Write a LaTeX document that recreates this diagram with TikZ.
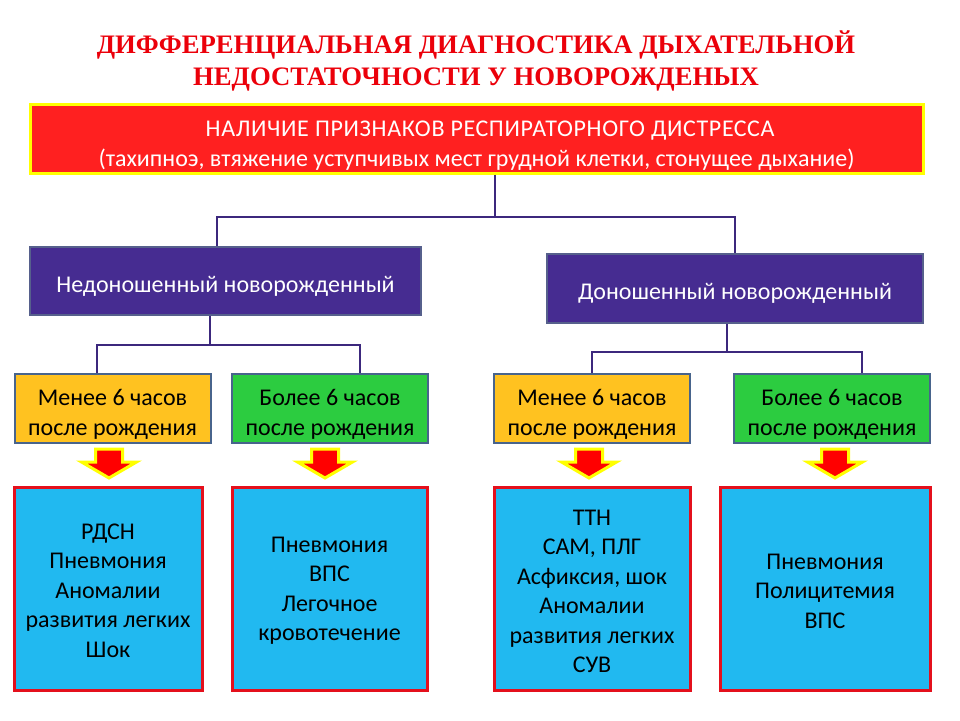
\documentclass[tikz,border=0pt]{standalone}
\usepackage{fontspec}
\setmainfont{Carlito}
\newfontfamily\titlefont{Liberation Serif}
\usepackage{tikz}
\usetikzlibrary{positioning}

\definecolor{boxred}{RGB}{255,32,32}
\definecolor{boxyel}{RGB}{255,255,0}
\definecolor{boxpur}{RGB}{70,44,145}
\definecolor{edgepur}{RGB}{86,96,140}
\definecolor{boxgold}{RGB}{255,194,32}
\definecolor{boxgreen}{RGB}{44,204,64}
\definecolor{edgeblue}{RGB}{72,100,140}
\definecolor{boxsky}{RGB}{33,185,240}
\definecolor{edgered}{RGB}{228,16,28}
\definecolor{linkpur}{RGB}{60,40,125}
\definecolor{titlered}{RGB}{235,0,10}
% strut to push text down in a box
\newcommand{\tstrut}[1][28pt]{\rule{0pt}{#1}}

\begin{document}
\begin{tikzpicture}[x=1pt,y=-1pt
  ,every node/.style={font=\fontsize{24}{29.5}\selectfont,align=center,inner sep=0pt}]
  \tikzstyle{every box}=[draw,line width=2pt,minimum height=69]
  \tikzstyle{redbox}=[every box,fill=boxred,draw=boxyel,line width=3pt,text=white]
  \tikzstyle{purbox}=[every box,fill=boxpur,draw=edgepur,text=white]
  \tikzstyle{goldbox}=[every box,fill=boxgold,draw=edgeblue,minimum width=196]
  \tikzstyle{greenbox}=[every box,fill=boxgreen,draw=edgeblue,minimum width=196]
  \tikzstyle{skybox}=[every box,fill=boxsky,draw=edgered,line width=3pt,minimum height=203]
  \tikzstyle{link}=[draw=linkpur,line width=1.5pt]
  \tikzstyle{blockarrow}=[fill=red,draw=boxyel,line width=3pt,line join=miter]

  \useasboundingbox (0,0) rectangle (960,720);

  % title
  \node[font=\titlefont\bfseries\fontsize{26.7}{32}\selectfont,text=titlered]
    (title) at (476,61) {ДИФФЕРЕНЦИАЛЬНАЯ ДИАГНОСТИКА ДЫХАТЕЛЬНОЙ\\
    НЕДОСТАТОЧНОСТИ У НОВОРОЖДЕНЫХ};

  % top row
  \node[redbox,minimum width=893] (sign) at (476.5,138.5)
    {\tstrut[30pt]\hspace*{27pt}{\addfontfeature{LetterSpace=2.7}НАЛИЧИЕ ПРИЗНАКОВ РЕСПИРАТОРНОГО ДИСТРЕССА}\\
    (тахипноэ, втяжение уступчивых мест грудной клетки, стонущее дыхание)};

  % 2 groups
  \node[purbox,minimum width=391,minimum height=68] (pre) at (225.5,281)
    {\tstrut[26pt]Недоношенный новорожденный};
  \node[purbox,minimum width=376] (term) at (735,288.5)
    {\tstrut[26pt]Доношенный новорожденный};

  % 4 time boxes
  \node[goldbox] (pre6) at (112.5,408.5) {\tstrut Менее 6 часов\\после рождения};
  \node[greenbox] (pre6p) at (330,408.5) {\tstrut Более 6 часов\\после рождения};
  \node[goldbox] (term6) at (592,408.5) {\tstrut Менее 6 часов\\после рождения};
  \node[greenbox] (term6p) at (832,408.5) {\tstrut Более 6 часов\\после рождения};

  % 4 causes
  \node[skybox,minimum width=188] (prec) at (108,588.5)
    {\tstrut[20pt]РДСН\\Пневмония\\Аномалии\\развития легких\\Шок};
  \node[skybox,minimum width=195] (precp) at (329.5,588.5)
    {\tstrut[20pt]Пневмония\\ВПС\\Легочное\\кровотечение};
  \node[skybox,minimum width=196] (termc) at (592,588.5)
    {\tstrut[21pt]ТТН\\САМ, ПЛГ\\Асфиксия, шок\\Аномалии\\развития легких\\СУВ};
  \node[skybox,minimum width=210] (termcp) at (825,588.5)
    {\tstrut[21pt]Пневмония\\Полицитемия\\ВПС};

  \coordinate (jtop) at (495,217);
  \coordinate (jpre) at (210,345);
  \coordinate (jterm) at (727,352);

  \path[link] (sign.south -| jtop) -- (jtop)
  (jtop) -| ([xshift=-8.5]pre.north)
  (jtop) -| (term.north);
  \path[link] (pre.south -| jpre) -- (jpre)
  (jpre) -| ([xshift=-15.5]pre6.north)
  (jpre) -| ([xshift=30]pre6p.north);
  \path[link] (term.south -| jterm) -- (jterm)
  (jterm) -| (term6.north)
  (jterm) -| ([xshift=30]term6p.north);

  \foreach \ax in {109,325,589,835}
    \draw[blockarrow] (\ax-13.5,449) -- (\ax+13.5,449) -- (\ax+13.5,462)
      -- (\ax+27.5,462) -- (\ax,478) -- (\ax-27.5,462) -- (\ax-13.5,462) -- cycle;

\end{tikzpicture}
\end{document}
